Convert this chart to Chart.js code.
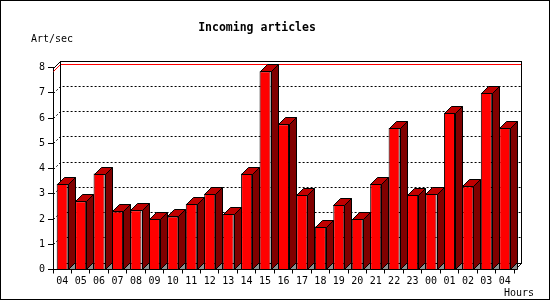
<!DOCTYPE html>
<html>
<head>
<meta charset="utf-8">
<script src="https://cdn.jsdelivr.net/npm/chart.js@4"></script>
<style>
  body { margin: 0; background: #fff; }
  canvas { display: block; }
</style>
</head>
<body>
<canvas id="chart" width="550" height="300"></canvas>
<script>
// Данные
const hours = ['04', '05', '06', '07', '08', '09', '10', '11', '12', '13', '14', '15', '16',
               '17', '18', '19', '20', '21', '22', '23', '00', '01', '02', '03', '04'];
const artPerSec = [3.4, 2.7, 3.8, 2.3, 2.35, 2.0, 2.1, 2.6, 3.0, 2.2, 3.8, 7.85, 5.75,
                   2.95, 1.7, 2.55, 2.0, 3.4, 5.6, 2.95, 3.0, 6.2, 3.3, 7.0, 5.6];
const yTicks = [0, 1, 2, 3, 4, 5, 6, 7, 8];

const FONT = 'DejaVu Sans Mono';
const DX = 7;   // глубина 3D
const DY = 7;

// Фон, стенки, сетка
const wallPlugin = {
    id: 'wall',
    beforeDraw(chart) {
        const ctx = chart.ctx;
        ctx.save();
        ctx.fillStyle = '#fff';
        ctx.fillRect(0, 0, chart.width, chart.height);
        ctx.strokeStyle = '#000';
        ctx.lineWidth = 1;
        ctx.strokeRect(0.5, 0.5, chart.width - 1, chart.height - 1);
        ctx.restore();
    },
    beforeDatasetsDraw(chart) {
        const ctx = chart.ctx;
        const a = chart.chartArea;
        const ys = chart.scales.y;
        const L = Math.round(a.left) + 0.5;
        const R = Math.round(a.right) + 0.5;
        const T = Math.round(a.top) + 0.5;
        const B = Math.round(a.bottom) + 0.5;
        ctx.save();
        ctx.lineWidth = 1;

        // сетка на задней стенке
        ctx.strokeStyle = '#000';
        ctx.setLineDash([2, 2]);
        yTicks.slice(1, -1).forEach(v => {
            const y = Math.round(ys.getPixelForValue(v)) + 0.5;
            ctx.beginPath();
            ctx.moveTo(L, y);
            ctx.lineTo(L + DX, y - DY);
            ctx.lineTo(R + DX, y - DY);
            ctx.stroke();
        });
        ctx.setLineDash([]);

        // линия максимума
        const ym = Math.round(ys.getPixelForValue(Math.max(...artPerSec))) + 0.5;
        ctx.strokeStyle = '#f00';
        ctx.beginPath();
        ctx.moveTo(L, ym);
        ctx.lineTo(L + DX, ym - DY);
        ctx.lineTo(R + DX, ym - DY);
        ctx.stroke();

        // задняя стенка и рёбра
        ctx.strokeStyle = '#000';
        ctx.strokeRect(L + DX, T - DY, R - L, B - T);
        ctx.beginPath();
        ctx.moveTo(L, T);
        ctx.lineTo(L + DX, T - DY);
        ctx.moveTo(R, B);
        ctx.lineTo(R + DX, B - DY);
        ctx.stroke();
        ctx.restore();
    },
    afterDatasetsDraw(chart) {
        const ctx = chart.ctx;
        const meta = chart.getDatasetMeta(0);
        ctx.save();
        ctx.lineWidth = 1;
        ctx.strokeStyle = '#000';
        meta.data.forEach(bar => {
            const p = bar.getProps(['x', 'y', 'base', 'width'], true);
            const l = Math.round(p.x - p.width / 2) + 0.5;
            const r = Math.round(p.x + p.width / 2) + 0.5;
            const t = Math.round(p.y) + 0.5;
            const b = Math.round(p.base) + 0.5;
            // верх
            ctx.fillStyle = '#c00000';
            ctx.beginPath();
            ctx.moveTo(l, t);
            ctx.lineTo(l + DX, t - DY);
            ctx.lineTo(r + DX, t - DY);
            ctx.lineTo(r, t);
            ctx.closePath();
            ctx.fill();
            ctx.stroke();
            // бок
            ctx.fillStyle = '#800000';
            ctx.beginPath();
            ctx.moveTo(r, t);
            ctx.lineTo(r + DX, t - DY);
            ctx.lineTo(r + DX, b - DY);
            ctx.lineTo(r, b);
            ctx.closePath();
            ctx.fill();
            ctx.stroke();
            // тень
            ctx.fillStyle = '#909090';
            ctx.beginPath();
            ctx.moveTo(r, b);
            ctx.lineTo(r + DX, b - DY);
            ctx.lineTo(r + DX, b);
            ctx.closePath();
            ctx.fill();
            ctx.stroke();
        });

        // подписи осей
        ctx.fillStyle = '#000';
        ctx.font = '10px "' + FONT + '"';
        ctx.textBaseline = 'middle';
        ctx.textAlign = 'left';
        ctx.fillText('Art/sec', 31, 39);
        ctx.textAlign = 'right';
        ctx.fillText('Hours', 534, 293);
        ctx.restore();
    }
};

function initChart() {
    new Chart(document.getElementById('chart'), {
        type: 'bar',
        data: {
            labels: hours,
            datasets: [{
                label: 'Art/sec',
                data: artPerSec,
                backgroundColor: '#ff0000',
                borderColor: '#000',
                borderWidth: 1,
                barPercentage: 0.6,
                categoryPercentage: 1.0
            }]
        },
        options: {
            responsive: false,
            animation: false,
            events: [],
            layout: { padding: { left: 0, right: 36, top: 0, bottom: 0 } },
            plugins: {
                legend: { display: false },
                tooltip: { enabled: false },
                title: {
                    display: true,
                    text: 'Incoming articles',
                    color: '#000',
                    font: { family: FONT, size: 11.5, weight: 'bold' },
                    padding: { top: 21, bottom: 32.7 }
                }
            },
            scales: {
                x: {
                    afterFit(s) { s.height = 30.5; },
                    grid: { drawOnChartArea: false, tickLength: 4, color: '#000' },
                    border: { color: '#000', width: 1 },
                    ticks: {
                        autoSkip: false, maxRotation: 0, padding: 2,
                        color: '#000', font: { family: FONT, size: 10 }
                    }
                },
                y: {
                    min: 0,
                    max: 8,
                    afterFit(s) { s.width = 53; },
                    afterBuildTicks(s) { s.ticks = yTicks.map(v => ({ value: v })); },
                    grid: { drawOnChartArea: false, tickLength: 5, color: '#000' },
                    border: { color: '#000', width: 1 },
                    ticks: {
                        padding: 3,
                        color: '#000', font: { family: FONT, size: 10 }
                    }
                }
            }
        },
        plugins: [wallPlugin]
    });
}

document.addEventListener('DOMContentLoaded', initChart);
</script>
</body>
</html>
